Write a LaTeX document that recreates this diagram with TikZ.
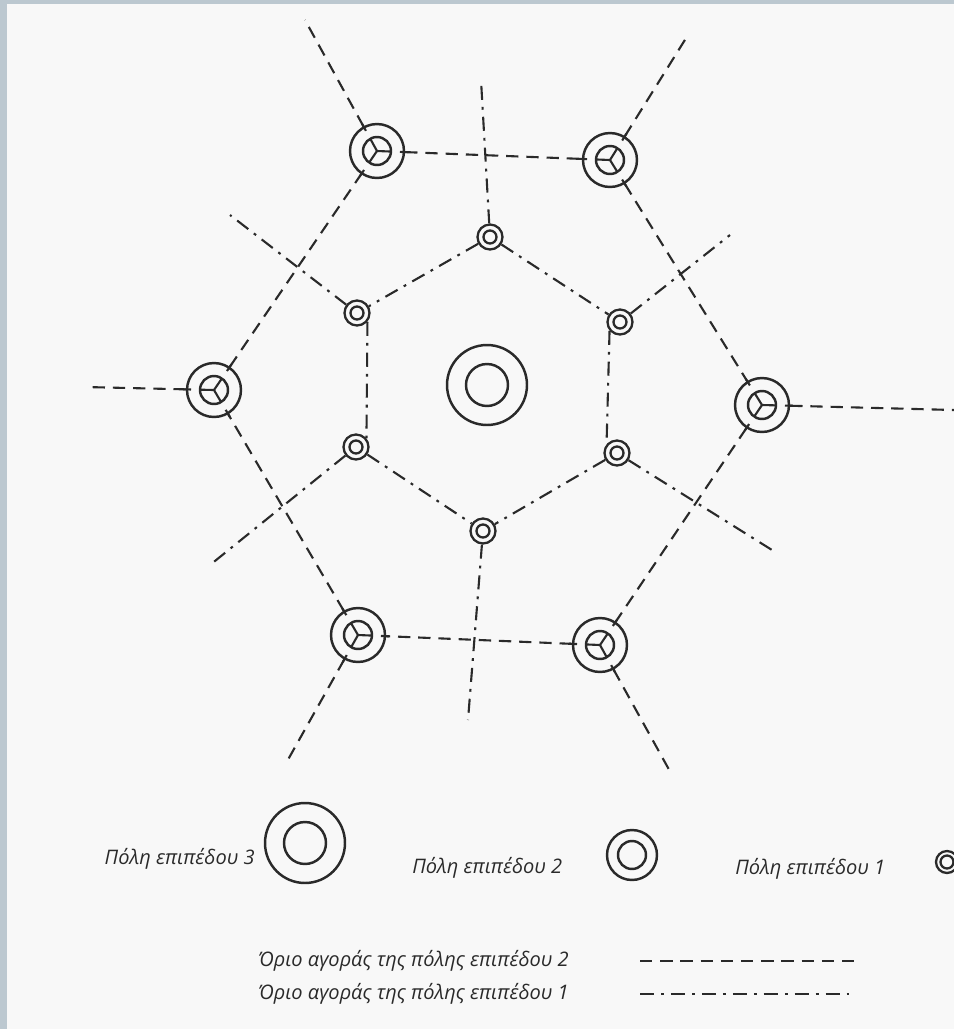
\documentclass[tikz,border=0pt]{standalone}
\usepackage{fontspec}
\setmainfont{Open Sans}
\usetikzlibrary{calc,positioning}

\definecolor{ink}{HTML}{2A2A2A}
\definecolor{paper}{HTML}{F8F8F8}
\definecolor{edge}{HTML}{BCC8D0}

\tikzset{
  city3/.style={circle,draw=ink,line width=1.4pt,minimum size=1.6cm,inner sep=0pt},
  city2/.style={circle,draw=ink,line width=1.4pt,minimum size=1.08cm,inner sep=0pt},
  city1/.style={circle,draw=ink,line width=1.3pt,minimum size=0.5cm,inner sep=0pt},
  lim2/.style={draw=ink,line width=1.2pt,dash pattern=on 7pt off 4.5pt},
  lim1/.style={draw=ink,line width=1.2pt,dash pattern=on 8pt off 4pt on 1.6pt off 4pt},
  spoke/.style={draw=ink,line width=1.2pt},
  legend/.style={anchor=west,text=ink,font=\itshape\fontsize{11.4}{13}\selectfont,inner sep=0pt}
}

% Y mark of a level 2 city, pointing to #2
\newcommand{\spoke}[2]{%
  \draw[spoke] let \p1=($(#2)-(#1)$), \n1={atan2(\y1,\x1)} in
    (#1.center) -- ($(#1.center)+(\n1:0.28cm)$)
    ($(#1.center)+(\n1:0.46cm)$) -- ($(#1.center)+(\n1:0.62cm)$);}

\begin{document}
\begin{tikzpicture}[x=0.02cm,y=-0.02cm]
        % Paper
        \useasboundingbox (0,0) rectangle (954,1029);
        \fill[paper] (0,0) rectangle (954,1029);
        \fill[edge] (0,0) rectangle (7,1029);
        \fill[edge] (0,0) rectangle (954,4);
        % Level 3 city
        \node[city3] (c) at (487,385) {};
        \draw[ink,line width=1.4pt] (c) circle (0.42cm);
        % Level 2 cities
        \node[city2] (tl) at (377,151) {};
        \node[city2] (tr) at (610,160) {};
        \node[city2] (r) at (762,405) {};
        \node[city2] (br) at (600,645) {};
        \node[city2] (bl) at (358,635) {};
        \node[city2] (l) at (214,390) {};
        \foreach \n in {tl,tr,r,br,bl,l}
          \draw[ink,line width=1.4pt] (\n) circle (0.28cm);
        % Level 1 cities
        \node[city1] (t1) at (490,237) {};
        \node[city1] (ur1) at (620,322) {};
        \node[city1] (lr1) at (617,453) {};
        \node[city1] (b1) at (483,531) {};
        \node[city1] (ll1) at (356,447) {};
        \node[city1] (ul1) at (357,313) {};
        \foreach \n in {t1,ur1,lr1,b1,ll1,ul1}
          \draw[ink,line width=1.3pt] (\n) circle (0.13cm);
        % Free ends of the limits
        \coordinate (tlx) at (305,20);
        \coordinate (trx) at (688,35);
        \coordinate (rx) at (954,410);
        \coordinate (brx) at (672,775);
        \coordinate (blx) at (285,765);
        \coordinate (lx) at (85,387);
        \coordinate (t1x) at (481,80);
        \coordinate (ur1x) at (730,235);
        \coordinate (lr1x) at (772,550);
        \coordinate (b1x) at (468,720);
        \coordinate (ll1x) at (210,565);
        \coordinate (ul1x) at (230,215);
        % Market limits of level 2
        \draw[lim2] (tl) -- (tr);
        \draw[lim2] (tr) -- (r);
        \draw[lim2] (r) -- (br);
        \draw[lim2] (br) -- (bl);
        \draw[lim2] (bl) -- (l);
        \draw[lim2] (l) -- (tl);
        \draw[lim2] (tl) -- (tlx);
        \draw[lim2] (tr) -- (trx);
        \draw[lim2] (r) -- (rx);
        \draw[lim2] (br) -- (brx);
        \draw[lim2] (bl) -- (blx);
        \draw[lim2] (l) -- (lx);
        % Y marks
        \spoke{tl}{tr} \spoke{tl}{l} \spoke{tl}{tlx}
        \spoke{tr}{tl} \spoke{tr}{r} \spoke{tr}{trx}
        \spoke{r}{tr} \spoke{r}{br} \spoke{r}{rx}
        \spoke{br}{r} \spoke{br}{bl} \spoke{br}{brx}
        \spoke{bl}{br} \spoke{bl}{l} \spoke{bl}{blx}
        \spoke{l}{bl} \spoke{l}{tl} \spoke{l}{lx}
        % Market limits of level 1
        \draw[lim1] (t1) -- (ul1);
        \draw[lim1] (t1) -- (ur1);
        \draw[lim1] (ul1.-40) -- (ll1.40);
        \draw[lim1] (ur1.-140) -- (lr1.140);
        \draw[lim1] (ll1) -- (b1);
        \draw[lim1] (lr1) -- (b1);
        \draw[lim1] (t1) -- (t1x);
        \draw[lim1] (ur1) -- (ur1x);
        \draw[lim1] (lr1) -- (lr1x);
        \draw[lim1] (b1) -- (b1x);
        \draw[lim1] (ll1) -- (ll1x);
        \draw[lim1] (ul1) -- (ul1x);
        % Legend
        \node[legend,anchor=east] (lab3) at (255,859) {Πόλη επιπέδου 3};
        \node[city3] (key3) at (305,843) {};
        \draw[ink,line width=1.4pt] (key3) circle (0.42cm);
        \node[legend] (lab2) at (412,868) {Πόλη επιπέδου 2};
        \node[city2,minimum size=1cm] (key2) at (632,855) {};
        \draw[ink,line width=1.4pt] (key2) circle (0.28cm);
        \node[legend] (lab1) at (735,869) {Πόλη επιπέδου 1};
        \node[city1,minimum size=0.44cm] (key1) at (947,862) {};
        \draw[ink,line width=1.3pt] (key1) circle (0.13cm);
        \node[legend] (mk2) at (258,961) {Όριο αγοράς της πόλης επιπέδου 2};
        \node[legend] (mk1) at (258,994) {Όριο αγοράς της πόλης επιπέδου 1};
        \coordinate (mk2a) at (640,961);
        \coordinate (mk2b) at (855,961);
        \coordinate (mk1a) at (640,994);
        \coordinate (mk1b) at (855,994);
        \draw[lim2] (mk2a) -- (mk2b);
        \draw[lim1] (mk1a) -- (mk1b);
\end{tikzpicture}
\end{document}
